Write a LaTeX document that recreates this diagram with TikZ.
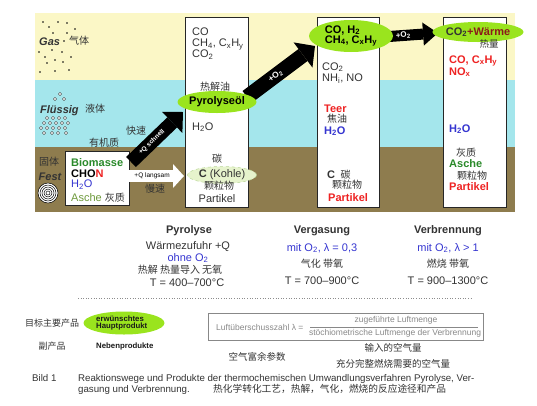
\documentclass[tikz,border=0pt]{standalone}
\usepackage{fontspec}
\setmainfont{Liberation Sans}
\newfontfamily\cjk{Noto Sans CJK SC}
\usetikzlibrary{arrows.meta,shapes.geometric}
\definecolor{gasY}{HTML}{FBF7C6}
\definecolor{liqC}{HTML}{A4E6EC}
\definecolor{solB}{HTML}{8E7C4E}
\definecolor{lime}{HTML}{9AE41E}
\definecolor{kohle}{HTML}{E6F3CC}
\definecolor{kohleline}{HTML}{BBD89A}
\definecolor{myred}{HTML}{EE2222}
\definecolor{myblue}{HTML}{3535D0}
\definecolor{mygreen}{HTML}{2A8A2A}
\definecolor{myolive}{HTML}{6E9A3C}
\definecolor{wine}{HTML}{8B1A1A}
\definecolor{txt}{HTML}{333333}
\definecolor{frm}{HTML}{888888}
\newcommand\myfs[1]{\fontsize{#1}{#1}\selectfont}
\newcommand\sub[1]{\textsubscript{#1}}
\begin{document}
\begin{tikzpicture}[x=1pt,y=-1pt,
  box/.style={draw=black!85,line width=0.9pt,fill=white},
  lbl/.style={inner sep=0,text=txt,font=\myfs{11}},
  ll/.style={lbl,anchor=base west},
  bl/.style={ll,font=\bfseries\myfs{11}},
  zh/.style={inner sep=0,text=txt,font=\cjk\myfs{10}},
  oval/.style={ellipse,fill=lime,inner sep=0},
  blackarrow/.style={draw=black,line width=#1,-{Triangle[width=2.1*#1,length=15pt,line width=0pt]}},
  arrowtext/.style={sloped,text=white,inner sep=0,font=\bfseries\myfs{7}},
  gasdot/.style={fill=black},
  bubble/.style={draw=black!80,fill=white,line width=0.4pt}]
\useasboundingbox (0,0) rectangle (537,405);
% background bands
\fill[gasY] (35,13) rectangle (515,80);
\fill[liqC] (35,80) rectangle (515,147);
\fill[solB] (35,147) rectangle (515,212);
% gas dots
\foreach \p in {(43,22),(49,27),(58,22),(67,23),(75,29),(67,33),(53,33),(64,41),(39,52),(52,50),(62,52),(45,57),(55,60),(71,57),(63,62),(47,63),(40,72),(55,71),(69,70)}
  \fill[gasdot] \p circle (0.9);
% liquid bubbles
\foreach \p in {(60,94),(55,99),(64,99),(47,118),(53,118),(59,118),(65,118),(44,123),(50,123),(56,123),(62,123),(68,123),(41,128),(47,128),(53,128),(59,128),(65,128),(44,133),(52,133),(58,133),(66,133)}
  \draw[bubble] \p circle (1.6);
% phase labels
\node[ll,font=\bfseries\itshape\myfs{11}] (gas) at (39,45) {Gas};
\node[zh] (gaszh) at (79,41) {气体};
\node[ll,font=\bfseries\itshape\myfs{11}] (fl) at (40,113) {Flüssig};
\node[zh] (flzh) at (95,109) {液体};
\node[zh] (festzh) at (49,162) {固体};
\node[lbl,anchor=base,font=\bfseries\itshape\myfs{11}] (fest) at (50,180) {Fest};
\draw[fill=white,line width=0.5pt] (48,193) circle (10);
\foreach \r in {8,6,4,2} \draw[line width=0.5pt] (48,193) circle (\r);
\node[zh] (schnellzh) at (136,131) {快速};
\node[zh] (orgzh) at (104,143) {有机质};
\node[zh] (langzh) at (155,189) {慢速};
% biomass box
\draw[box,line width=0.8pt] (65,151) rectangle (129,205);
\node[bl,text=mygreen] (bio) at (71,166) {Biomasse};
\node[bl,text=black] (chon) at (71,177) {CHO\textcolor{myred}{N}};
\node[ll,text=myblue] (bioh2o) at (71,187.5) {H\sub{2}O};
\node[ll,text=myolive] (asche) at (71,201) {Asche \textcolor{txt}{\cjk\myfs{10}灰质}};
% process boxes
\draw[box] (185,17) rectangle (248,207);
\draw[box] (317,17) rectangle (379,207);
\draw[box] (443,17) rectangle (506,207);
% arrows
\coordinate (a1s) at (131,162);
\coordinate (a1e) at (183,112);
\coordinate (a2s) at (129,176);
\coordinate (a2e) at (184,176);
\coordinate (a3s) at (247,97);
\coordinate (a3e) at (315,46);
\coordinate (a4s) at (382,37);
\coordinate (a4e) at (438,33);
\draw[blackarrow=14pt] (a1s) -- node[arrowtext,pos=0.4,font=\bfseries\myfs{6.5}] {+Q schnell} (a1e);
\draw[draw=white,line width=12pt,-{Triangle[width=24pt,length=11pt,line width=0pt]}] (a2s) -- node[pos=0.42,inner sep=0,text=black,font=\myfs{6.5}] {+Q langsam} (a2e);
\draw[blackarrow=15pt] (a3s) -- node[arrowtext,pos=0.42,font=\bfseries\myfs{8.5}] {+O\sub{2}} (a3e);
\draw[blackarrow=11pt] (a4s) -- node[arrowtext,pos=0.38,font=\bfseries\myfs{8}] {+O\sub{2}} (a4e);
% box 1 contents
\node[ll] (b1co) at (192,35) {CO};
\node[ll] (b1ch) at (192,46.5) {CH\sub{4}, C\sub{x}H\sub{y}};
\node[ll] (b1co2) at (192,57.5) {CO\sub{2}};
\node[zh] (b1oilzh) at (215,87) {热解油};
\node[oval,minimum width=79pt,minimum height=22pt,font=\bfseries\myfs{11}] (oil) at (217,102) {Pyrolyseöl};
\node[ll] (b1h2o) at (192,130) {H\sub{2}O};
\node[zh] (b1czh) at (217,159) {碳};
\node[ellipse,fill=kohle,draw=kohleline,dashed,line width=0.5pt,inner sep=0,minimum width=69pt,minimum height=17pt,text=txt,font=\myfs{11}] (kohle) at (222,175) {\textbf{C} (Kohle)};
\node[zh] (b1pzh) at (219,186) {颗粒物};
\node[lbl,anchor=base] (b1part) at (217,202) {Partikel};
% box 2 contents
\node[oval,minimum width=84pt,minimum height=32pt,align=left,font=\bfseries\myfs{11}] (gasoval) at (351,36) {CO, H\sub{2}\\[-1pt]CH\sub{4}, C\sub{x}H\sub{y}};
\node[ll] (b2co2) at (322,70) {CO\sub{2}};
\node[ll] (b2nh) at (322,81.5) {NH\sub{i}, NO};
\node[bl,text=myred] (teer) at (324,112) {Teer};
\node[zh] (teerzh) at (337,119) {焦油};
\node[bl,text=myblue] (b2h2o) at (324,134) {H\sub{2}O};
\node[bl,text=txt] (b2c) at (327,178) {C\enspace\mdseries\cjk\myfs{10}碳};
\node[zh] (b2pzh) at (347,185) {颗粒物};
\node[bl,text=myred] (b2part) at (328,201) {Partikel};
% box 3 contents
\node[oval,minimum width=70pt,minimum height=20pt,text=txt,font=\bfseries\myfs{11}] (waerme) at (478,32) {CO\sub{2}\textcolor{wine}{+Wärme}};
\node[zh,font=\cjk\myfs{9.5}] (waermezh) at (489,44) {热量};
\node[bl,text=myred] (b3co) at (449,63) {CO, C\sub{x}H\sub{y}};
\node[bl,text=myred] (b3no) at (449,75) {NO\sub{x}};
\node[bl,text=myblue] (b3h2o) at (449,132) {H\sub{2}O};
\node[zh] (b3azh) at (466,153) {灰质};
\node[bl,text=mygreen] (b3asche) at (449,167) {Asche};
\node[zh] (b3pzh) at (472,176) {颗粒物};
\node[bl,text=myred] (b3part) at (449,190) {Partikel};
% process descriptions
\node[lbl,font=\bfseries\myfs{11}] (pyr) at (189,231) {Pyrolyse};
\node[lbl] (pyr1) at (188,247) {Wärmezufuhr +Q};
\node[lbl,text=myblue] (pyr2) at (188,258) {ohne O\sub{2}};
\node[zh] (pyr3) at (180,270) {热解 热量导入 无氧};
\node[lbl] (pyr4) at (187,283) {T = 400–700°C};
\node[lbl,font=\bfseries\myfs{11}] (verg) at (322,231) {Vergasung};
\node[lbl,text=myblue] (verg1) at (322,248) {mit O\sub{2}, λ = 0,3};
\node[zh] (verg2) at (322,264) {气化 带氧};
\node[lbl] (verg3) at (322,281) {T = 700–900°C};
\node[lbl,font=\bfseries\myfs{11}] (verb) at (448,231) {Verbrennung};
\node[lbl,text=myblue] (verb1) at (448,248) {mit O\sub{2}, λ > 1};
\node[zh] (verb2) at (448,264) {燃烧 带氧};
\node[lbl] (verb3) at (448,281) {T = 900–1300°C};
% separator
\coordinate (sepl) at (78,298);
\coordinate (sepr) at (473,298);
\draw[black!45,dotted,line width=0.6pt] (sepl) -- (sepr);
% legend
\node[zh,font=\cjk\myfs{9}] (leg1zh) at (52,323) {目标主要产品};
\node[oval,minimum width=81pt,minimum height=23pt] (legoval) at (124,323) {};
\node[inner sep=0,anchor=west,align=left,font=\bfseries\myfs{7.8},text=black!90] (legtext) at (96,323) {erwünschtes\\[-1pt]Hauptprodukt};
\node[zh,font=\cjk\myfs{9}] (leg2zh) at (52,346) {副产品};
\node[inner sep=0,anchor=west,font=\bfseries\myfs{7.8},text=black!90] (neben) at (96,346) {Nebenprodukte};
% formula
\draw[frm,line width=0.8pt] (208,313) rectangle (483,340);
\node[inner sep=0,anchor=west,text=frm,font=\myfs{8.5}] (luft) at (216,327) {Luftüberschusszahl λ =};
\coordinate (fracl) at (310,327);
\coordinate (fracr) at (478,327);
\draw[frm,line width=0.6pt] (fracl) -- (fracr);
\node[inner sep=0,text=frm,font=\myfs{8.5}] (num) at (396,320.5) {zugeführte Luftmenge};
\node[inner sep=0,text=frm,font=\myfs{8.5}] (den) at (395,333.5) {stöchiometrische Luftmenge der Verbrennung};
\node[zh,font=\cjk\myfs{9.5}] (kzh) at (257,357) {空气富余参数};
\node[zh,font=\cjk\myfs{9.5}] (numzh) at (393,348) {输入的空气量};
\node[zh,font=\cjk\myfs{9.5}] (denzh) at (393,364) {充分完整燃烧需要的空气量};
% caption
\node[inner sep=0,anchor=base west,text=txt,font=\myfs{9.7}] (bild) at (32,381) {Bild 1};
\node[inner sep=0,anchor=base west,text=txt,font=\myfs{9.7}] (cap1) at (78,381) {Reaktionswege und Produkte der thermochemischen Umwandlungsverfahren Pyrolyse, Ver-};
\node[inner sep=0,anchor=base west,text=txt,font=\myfs{9.7}] (cap2) at (78,392.5) {gasung und Verbrennung.};
\node[inner sep=0,anchor=base west,text=txt,font=\cjk\myfs{9.7}] (cap3) at (213,392.5) {热化学转化工艺，热解，气化，燃烧的反应途径和产品};
\end{tikzpicture}
\end{document}
